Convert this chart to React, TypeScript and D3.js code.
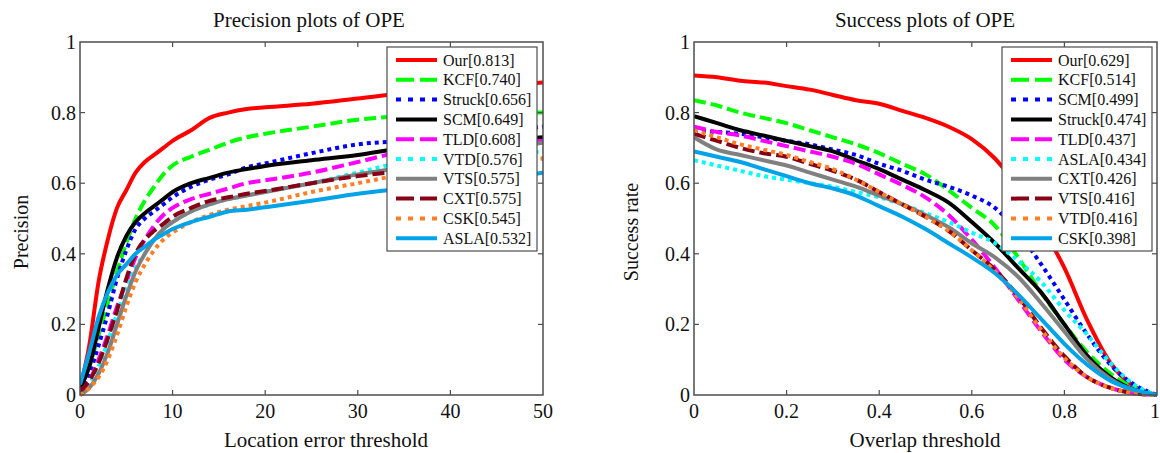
import React from "react";
import * as d3 from "d3";

// ---------- DATA ----------
const precThresholds = [0, 1, 2, 3, 4, 5, 6, 7, 8, 9, 10, 12, 14, 16, 18, 20, 25, 30, 35, 40, 45, 50];
const precNames = ["Our", "KCF", "Struck", "SCM", "TLD", "VTD", "VTS", "CXT", "CSK", "ASLA"];
const precScores = ["0.813", "0.740", "0.656", "0.649", "0.608", "0.576", "0.575", "0.575", "0.545", "0.532"];
const precOur = [0.02, 0.14, 0.32, 0.44, 0.53, 0.58, 0.63, 0.66, 0.68, 0.70, 0.72, 0.75, 0.785, 0.80, 0.81, 0.815, 0.825, 0.84, 0.855, 0.865, 0.875, 0.885];
const precKCF = [0.02, 0.08, 0.17, 0.26, 0.35, 0.43, 0.50, 0.55, 0.59, 0.625, 0.65, 0.675, 0.695, 0.715, 0.73, 0.74, 0.76, 0.78, 0.79, 0.795, 0.80, 0.80];
const precStruck = [0.01, 0.06, 0.14, 0.23, 0.33, 0.41, 0.47, 0.50, 0.52, 0.54, 0.56, 0.59, 0.61, 0.625, 0.645, 0.656, 0.685, 0.71, 0.72, 0.73, 0.745, 0.76];
const precSCM = [0.02, 0.08, 0.19, 0.30, 0.39, 0.45, 0.49, 0.515, 0.535, 0.555, 0.575, 0.60, 0.615, 0.63, 0.64, 0.649, 0.665, 0.68, 0.70, 0.71, 0.72, 0.73];
const precTLD = [0.01, 0.04, 0.10, 0.17, 0.25, 0.32, 0.39, 0.44, 0.48, 0.51, 0.53, 0.555, 0.57, 0.585, 0.60, 0.608, 0.63, 0.66, 0.69, 0.70, 0.71, 0.72];
const precVTD = [0.01, 0.03, 0.08, 0.15, 0.23, 0.30, 0.36, 0.40, 0.44, 0.47, 0.49, 0.52, 0.54, 0.555, 0.565, 0.576, 0.60, 0.63, 0.66, 0.67, 0.68, 0.69];
const precVTS = [0.0, 0.02, 0.06, 0.12, 0.20, 0.28, 0.35, 0.40, 0.44, 0.47, 0.49, 0.52, 0.54, 0.555, 0.565, 0.575, 0.60, 0.625, 0.645, 0.675, 0.695, 0.715];
const precCXT = [0.01, 0.04, 0.09, 0.16, 0.24, 0.33, 0.40, 0.44, 0.465, 0.485, 0.505, 0.53, 0.55, 0.56, 0.57, 0.578, 0.60, 0.62, 0.635, 0.65, 0.66, 0.67];
const precCSK = [0.0, 0.02, 0.05, 0.10, 0.17, 0.25, 0.32, 0.37, 0.41, 0.44, 0.46, 0.49, 0.51, 0.525, 0.535, 0.545, 0.575, 0.60, 0.625, 0.64, 0.655, 0.67];
const precASLA = [0.03, 0.12, 0.22, 0.29, 0.34, 0.37, 0.40, 0.42, 0.44, 0.455, 0.47, 0.49, 0.505, 0.52, 0.525, 0.532, 0.55, 0.57, 0.585, 0.595, 0.61, 0.63];
const precSeries = [precOur, precKCF, precStruck, precSCM, precTLD, precVTD, precVTS, precCXT, precCSK, precASLA];
const precXTicks = [0, 10, 20, 30, 40, 50];

const succThresholds = [0, 0.05, 0.1, 0.15, 0.2, 0.25, 0.3, 0.35, 0.4, 0.45, 0.5, 0.55, 0.6, 0.65, 0.7, 0.75, 0.8, 0.85, 0.9, 0.95, 1];
const succNames = ["Our", "KCF", "SCM", "Struck", "TLD", "ASLA", "CXT", "VTS", "VTD", "CSK"];
const succScores = ["0.629", "0.514", "0.499", "0.474", "0.437", "0.434", "0.426", "0.416", "0.416", "0.398"];
const succOur = [0.905, 0.90, 0.89, 0.885, 0.875, 0.865, 0.85, 0.835, 0.825, 0.805, 0.785, 0.76, 0.725, 0.67, 0.59, 0.48, 0.36, 0.21, 0.09, 0.025, 0];
const succKCF = [0.835, 0.82, 0.80, 0.785, 0.77, 0.75, 0.73, 0.71, 0.685, 0.655, 0.625, 0.58, 0.53, 0.48, 0.39, 0.29, 0.20, 0.12, 0.06, 0.02, 0];
const succSCM = [0.75, 0.745, 0.74, 0.73, 0.72, 0.71, 0.695, 0.68, 0.655, 0.635, 0.61, 0.59, 0.565, 0.53, 0.46, 0.37, 0.27, 0.17, 0.085, 0.03, 0];
const succStruck = [0.79, 0.77, 0.75, 0.735, 0.72, 0.705, 0.69, 0.665, 0.64, 0.61, 0.58, 0.545, 0.49, 0.43, 0.36, 0.29, 0.20, 0.11, 0.05, 0.015, 0];
const succTLD = [0.76, 0.745, 0.735, 0.72, 0.705, 0.69, 0.675, 0.655, 0.625, 0.595, 0.56, 0.51, 0.44, 0.36, 0.27, 0.18, 0.10, 0.05, 0.02, 0.005, 0];
const succASLA = [0.665, 0.65, 0.635, 0.62, 0.61, 0.60, 0.59, 0.575, 0.56, 0.54, 0.515, 0.49, 0.46, 0.43, 0.38, 0.32, 0.24, 0.17, 0.09, 0.03, 0];
const succCXT = [0.73, 0.695, 0.68, 0.665, 0.65, 0.63, 0.61, 0.59, 0.565, 0.54, 0.51, 0.475, 0.43, 0.39, 0.335, 0.26, 0.18, 0.10, 0.045, 0.012, 0];
const succVTS = [0.74, 0.72, 0.70, 0.685, 0.675, 0.655, 0.635, 0.61, 0.575, 0.54, 0.505, 0.465, 0.41, 0.355, 0.28, 0.19, 0.11, 0.05, 0.02, 0.005, 0];
const succVTD = [0.75, 0.73, 0.71, 0.695, 0.68, 0.66, 0.64, 0.61, 0.575, 0.54, 0.505, 0.465, 0.41, 0.35, 0.275, 0.185, 0.105, 0.05, 0.02, 0.005, 0];
const succCSK = [0.69, 0.675, 0.66, 0.64, 0.62, 0.60, 0.585, 0.565, 0.535, 0.505, 0.47, 0.43, 0.39, 0.345, 0.285, 0.215, 0.145, 0.085, 0.04, 0.015, 0];
const succSeries = [succOur, succKCF, succSCM, succStruck, succTLD, succASLA, succCXT, succVTS, succVTD, succCSK];
const succXTicks = [0, 0.2, 0.4, 0.6, 0.8, 1];

const yTicks = [0, 0.2, 0.4, 0.6, 0.8, 1];

// ---------- STYLE (by rank) ----------
const rankColors = ["#ff0000", "#00ff00", "#0000ff", "#000000", "#ff00ff", "#00ffff", "#808080", "#880015", "#ff7f27", "#00a2e8"];
const rankKinds = ["solid", "dash", "dot", "solid", "dash", "dot", "solid", "dash", "dot", "solid"];
const plotDash: Record<string, string | undefined> = { solid: undefined, dash: "12,5", dot: "4,4" };
const legendDash: Record<string, string | undefined> = { solid: undefined, dash: "18,6", dot: "5,7" };

const FONT = "'Liberation Serif', 'Times New Roman', serif";
const AXIS = "#4d4d4d";
const SVG_W = 1160;

type PanelProps = {
  id: string;
  left: number;
  right: number;
  title: string;
  titleX: number;
  xLabel: string;
  xLabelX: number;
  yLabel: string;
  yLabelX: number;
  xDomain: [number, number];
  xTicks: number[];
  thresholds: number[];
  series: number[][];
  names: string[];
  scores: string[];
  legendX: number;
};

const TOP = 42;
const BOTTOM = 395;

function Panel(p: PanelProps) {
  const x = d3.scaleLinear().domain(p.xDomain).range([p.left, p.right]);
  const y = d3.scaleLinear().domain([0, 1]).range([BOTTOM, TOP]);
  const tick = 5;
  const legW = 150;
  const legTop = 47;
  const rowH = 19.8;
  const legH = 204;
  return (
    <g fontFamily={FONT}>
      <defs>
        <clipPath id={`clip-${p.id}`}>
          <rect x={p.left} y={TOP - 2} width={p.right - p.left} height={BOTTOM - TOP + 4} />
        </clipPath>
      </defs>
      <text x={p.titleX} y={27} fontSize={21} textAnchor="middle" fill="#111">
        {p.title}
      </text>
      {/* lines */}
      <g clipPath={`url(#clip-${p.id})`}>
        {p.series.map((vals, i) => {
          const line = d3
            .line<number>()
            .x((_, k) => x(p.thresholds[k]))
            .y((v) => y(v))
            .curve(d3.curveMonotoneX);
          return (
            <path
              key={i}
              d={line(vals) || ""}
              fill="none"
              stroke={rankColors[i]}
              strokeWidth={4}
              strokeDasharray={plotDash[rankKinds[i]]}
              strokeLinejoin="round"
            />
          );
        })}
      </g>
      {/* axes box */}
      <rect x={p.left} y={TOP} width={p.right - p.left} height={BOTTOM - TOP} fill="none" stroke={AXIS} strokeWidth={1.5} />
      {p.xTicks.map((t, i) => (
        <g key={`xt${i}`}>
          {i > 0 && i < p.xTicks.length - 1 && (
            <>
              <line x1={x(t)} x2={x(t)} y1={BOTTOM} y2={BOTTOM - tick} stroke={AXIS} strokeWidth={1.2} />
              <line x1={x(t)} x2={x(t)} y1={TOP} y2={TOP + tick} stroke={AXIS} strokeWidth={1.2} />
            </>
          )}
          <text x={Math.min(x(t), SVG_W - 5)} y={418} fontSize={20} textAnchor="middle" fill="#111">
            {String(t)}
          </text>
        </g>
      ))}
      {yTicks.map((t, i) => (
        <g key={`yt${i}`}>
          {i > 0 && i < yTicks.length - 1 && (
            <>
              <line x1={p.left} x2={p.left + tick} y1={y(t)} y2={y(t)} stroke={AXIS} strokeWidth={1.2} />
              <line x1={p.right} x2={p.right - tick} y1={y(t)} y2={y(t)} stroke={AXIS} strokeWidth={1.2} />
            </>
          )}
          <text x={p.left - 4} y={y(t) + 7} fontSize={20} textAnchor="end" fill="#111">
            {String(t)}
          </text>
        </g>
      ))}
      <text x={p.xLabelX} y={447} fontSize={21} textAnchor="middle" fill="#111">
        {p.xLabel}
      </text>
      <text
        transform={`translate(${p.yLabelX},232) rotate(-90)`}
        fontSize={20}
        textAnchor="middle"
        fill="#111"
      >
        {p.yLabel}
      </text>
      {/* legend */}
      <rect x={p.legendX} y={legTop} width={legW} height={legH} fill="#fff" stroke={AXIS} strokeWidth={1.2} />
      {p.names.map((n, i) => {
        const cy = legTop + 13 + i * rowH;
        return (
          <g key={`lg${i}`}>
            <line
              x1={p.legendX + 9}
              x2={p.legendX + 50}
              y1={cy}
              y2={cy}
              stroke={rankColors[i]}
              strokeWidth={4}
              strokeDasharray={legendDash[rankKinds[i]]}
            />
            <text x={p.legendX + 56} y={cy + 5.5} fontSize={16} fill="#111">
              {`${n}[${p.scores[i]}]`}
            </text>
          </g>
        );
      })}
    </g>
  );
}

export default function App() {
  return (
    <svg
      width={SVG_W}
      height={453}
      style={{ position: "absolute", left: 0, top: 0, background: "#fff" }}
    >
      <rect x={0} y={0} width={SVG_W} height={453} fill="#fff" />
      <Panel
        id="prec"
        left={80}
        right={543}
        title="Precision plots of OPE"
        titleX={309}
        xLabel="Location error threshold"
        xLabelX={326}
        yLabel="Precision"
        yLabelX={28}
        xDomain={[0, 50]}
        xTicks={precXTicks}
        thresholds={precThresholds}
        series={precSeries}
        names={precNames}
        scores={precScores}
        legendX={387}
      />
      <Panel
        id="succ"
        left={694}
        right={1157}
        title="Success plots of OPE"
        titleX={925}
        xLabel="Overlap threshold"
        xLabelX={925}
        yLabel="Success rate"
        yLabelX={638}
        xDomain={[0, 1]}
        xTicks={succXTicks}
        thresholds={succThresholds}
        series={succSeries}
        names={succNames}
        scores={succScores}
        legendX={1002}
      />
    </svg>
  );
}
